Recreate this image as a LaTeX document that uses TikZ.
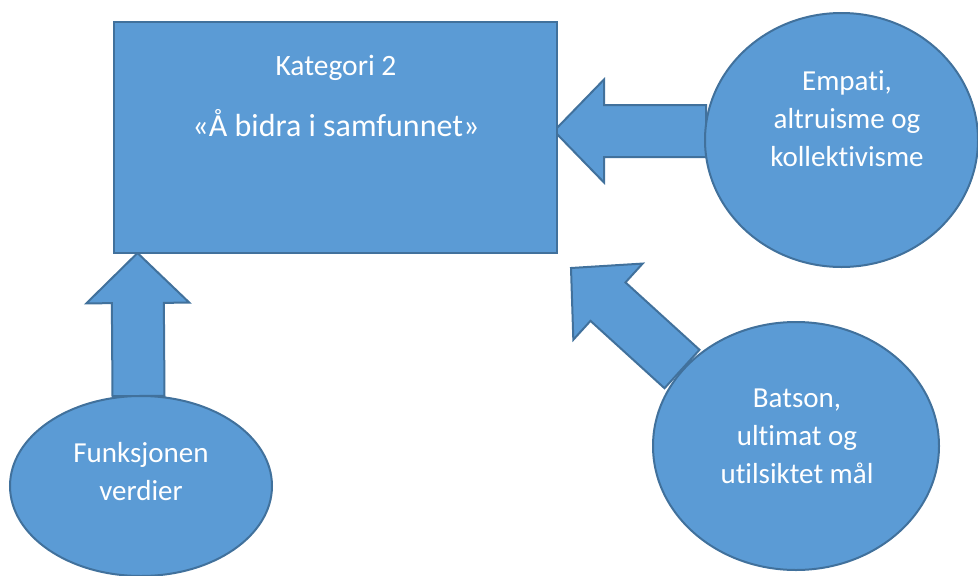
\documentclass[tikz,border=0pt]{standalone}
\usepackage{fontspec}
\setmainfont[Ligatures=NoCommon]{Carlito}
\usetikzlibrary{positioning}
\usetikzlibrary{shapes.geometric}
\usetikzlibrary{calc}
\definecolor{boxblue}{HTML}{5B9BD5}
\definecolor{edgeblue}{HTML}{41719C}
\pgfdeclarelayer{background}
\pgfsetlayers{background,main}

\newcommand{\blockarrow}[2]{%
    \path ($(#2)!50pt!(#1)$) coordinate (hb);
    \draw[blockarr] (#2) -- ($(hb)!51.5pt!90:(#2)$) -- ($(hb)!26pt!90:(#2)$)
        -- ($(#1)!26pt!90:(hb)$) -- ($(#1)!26pt!-90:(hb)$)
        -- ($(hb)!26pt!-90:(#2)$) -- ($(hb)!51.5pt!-90:(#2)$) -- cycle;
}

\begin{document}
\begin{tikzpicture}[x=1pt, y=-1pt,
    shapebox/.style={draw=edgeblue, fill=boxblue, line width=2pt, inner sep=0pt},
    blockarr/.style={draw=edgeblue, fill=boxblue, line width=2pt, line join=miter},
    lbl/.style={text=white, align=center, anchor=base, font=\fontsize{29}{38}\selectfont}]
    \useasboundingbox (0,0) rectangle (978,576);

    \node[shapebox, rectangle, minimum width=443pt, minimum height=231pt] (kat) at (335.5,137.5) {};
    \node[shapebox, ellipse, minimum width=273pt, minimum height=254pt] (empati) at (841.5,140) {};
    \node[shapebox, ellipse, minimum width=286pt, minimum height=248pt] (batson) at (796,446) {};
    \node[shapebox, ellipse, minimum width=262pt, minimum height=180pt] (funk) at (141,486) {};

    \coordinate (empTail) at ($(empati.west)+(2,-9)$);
    \coordinate (empTip) at ($(kat.east)+(-4,-6.5)$);
    \coordinate (batTail) at ($(batson.west)+(30,-77)$);
    \coordinate (batTip) at ($(kat.south east)+(13,14)$);
    \coordinate (funkTail) at ($(funk.north)+(-2.5,1)$);
    \coordinate (funkTip) at ($(kat.south west)+(24.5,-1)$);

    \begin{pgfonlayer}{background}
        \blockarrow{empTail}{empTip}
        \blockarrow{batTail}{batTip}
        \blockarrow{funkTail}{funkTip}
    \end{pgfonlayer}

    \node[lbl, font=\fontsize{29.5}{34}\selectfont] (katname) at (336,75) {Kategori 2};
    \node[lbl, font=\fontsize{32}{38}\selectfont] (katsub) at (336,136) {«Å bidra i samfunnet»};
    \node[lbl] (empatitxt) at (847,166) {Empati,\\altruisme og\\kollektivisme};
    \node[lbl] (batsontxt) at (797,483) {Batson,\\ultimat og\\utilsiktet mål};
    \node[lbl] (funktxt) at (141,500) {Funksjonen\\verdier};
\end{tikzpicture}
\end{document}
